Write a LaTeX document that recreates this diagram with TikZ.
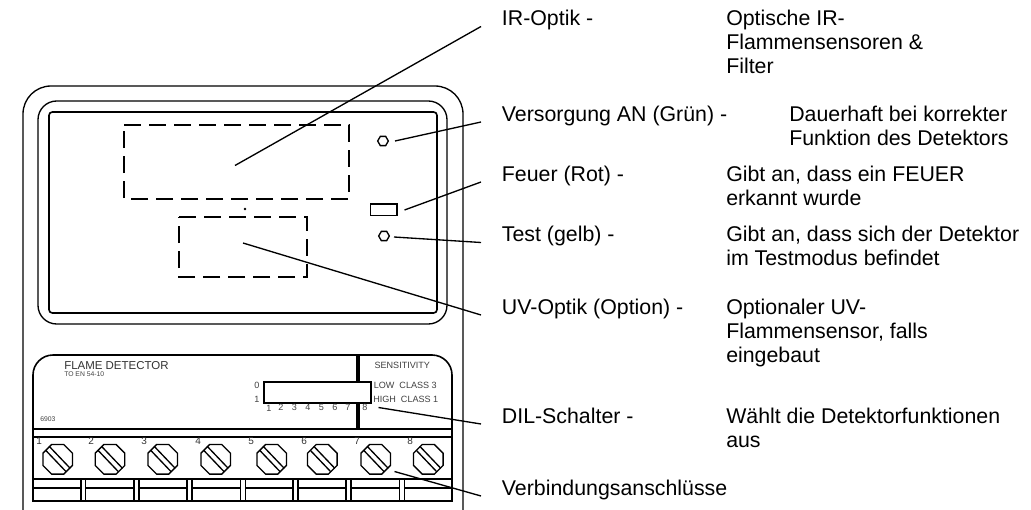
\documentclass[tikz,border=0pt]{standalone}
\usepackage{fontspec}
\setmainfont{Liberation Sans}
\usetikzlibrary{positioning,shapes.geometric}
\tikzset{
  leader/.style={line width=1pt},
  frame/.style={line width=1pt},
  hidden/.style={line width=1pt,dash pattern=on 13pt off 5.75pt},
  lamp/.style={draw,line width=1pt,regular polygon,regular polygon sides=6,inner sep=0pt,minimum size=8pt},
  term/.style={font=\fontsize{16}{18}\selectfont,anchor=west,inner xsep=15.5pt,inner ysep=0pt,text height=10pt,text depth=11pt},
  info/.style={font=\fontsize{16}{18}\selectfont,anchor=north west,align=left,inner sep=0pt},
  tiny/.style={font=\fontsize{5.1}{6}\selectfont,text=black!75,inner sep=0pt,anchor=base west},
  small/.style={font=\fontsize{6.8}{8}\selectfont,text=black!75,inner sep=0pt,anchor=base west},
  num/.style={font=\fontsize{7.5}{8}\selectfont,text=black!80,inner sep=0pt,anchor=base west},
  screw/.pic={
    \draw[line width=1pt] (22.5:16) -- (67.5:16) -- (112.5:16) -- (157.5:16) -- (202.5:16) -- (247.5:16) -- (292.5:16) -- (337.5:16) -- cycle;
    \draw[line width=1pt] (-12,-9) -- (8.5,12.5) (-8.5,-13) -- (12.5,9);
  }
}
\begin{document}
\begin{tikzpicture}[x=0.75pt,y=-0.75pt]
\useasboundingbox (0,0) rectangle (1031,510);
% housing
\draw[frame] (23,510) -- (23,114) arc[start angle=180,end angle=90,x radius=28,y radius=-28] -- (435,86) arc[start angle=90,end angle=0,x radius=28,y radius=-28] -- (463,510);
\draw[frame,rounded corners=14] (38,101) rectangle (447,324);
\draw[frame,line width=1.2pt,rounded corners=2.5] (49,112) rectangle (437,313);
\draw[hidden] (124,125) -- (349,125) -- (349,199) -- (124,199) -- cycle;
\draw[hidden] (179,217) -- (307,217) -- (307,277) -- (179,277) -- cycle;
\fill (245,209) circle (1.3);
\node[lamp] (greenlamp) at (383,141) {};
\node[draw,line width=1pt,minimum width=20pt,minimum height=8.5pt,inner sep=0pt] (redlamp) at (383.5,209.5) {};
\node[lamp] (testlamp) at (384,236) {};
% lower plate
\draw[line width=1.2pt] (33,501) -- (33,375) arc[start angle=180,end angle=90,x radius=20,y radius=-20] -- (432,355) arc[start angle=90,end angle=0,x radius=20,y radius=-20] -- (452,501) -- cycle;
\draw[line width=1.4pt] (33,429) -- (452,429);
\draw[line width=0.8pt] (33,437) -- (452,437);
\draw[line width=3pt] (357.5,355) -- (357.5,429);
\node[draw,fill=white,line width=1.2pt,minimum width=80pt,minimum height=15.5pt,inner sep=0pt] (dil) at (317.5,392.5) {};
\node[font=\fontsize{8.6}{10}\selectfont,text=black!80,inner sep=0pt,anchor=base west] (flame) at (64,369) {FLAME DETECTOR};
\node[tiny] (norm) at (64,376) {TO EN 54-10};
\node[tiny] (batch) at (40,421.7) {6903};
\node[small] (sens) at (374.3,368) {SENSITIVITY};
\node[small] (low) at (373.5,388.7) {LOW\ \ CLASS 3};
\node[small] (high) at (373,402.7) {HIGH\ \ CLASS 1};
\node[small] (off) at (254,388.7) {0};
\node[small] (on) at (254,402.7) {1};
\node[small] (sw1) at (266,411) {1};
\node[small] (sw2) at (278,410) {2};
\node[small] (sw3) at (291.5,410) {3};
\node[small] (sw4) at (305,410) {4};
\node[small] (sw5) at (318.5,410) {5};
\node[small] (sw6) at (332,410) {6};
\node[small] (sw7) at (345,410) {7};
\node[small] (sw8) at (362,410) {8};
% terminals
\node[num] (t1) at (36,444.5) {1};
\node[num] (t2) at (88,444.5) {2};
\node[num] (t3) at (141,444.5) {3};
\node[num] (t4) at (195,444.5) {4};
\node[num] (t5) at (248,444.5) {5};
\node[num] (t6) at (301,444.5) {6};
\node[num] (t7) at (354,444.5) {7};
\node[num] (t8) at (407,444.5) {8};
\pic at (57.7,459.3) {screw};
\pic at (110,459.3) {screw};
\pic at (162.7,459.3) {screw};
\pic at (215.7,459.3) {screw};
\pic at (271.7,459.3) {screw};
\pic at (322.3,459.3) {screw};
\pic at (375.7,459.3) {screw};
\pic at (428.3,459.3) {screw};
\draw[frame] (33,479) -- (452,479);
\draw[frame] (33,488) -- (452,488);
\draw[frame,fill=white] (81,479) rectangle (85.5,501);
\draw[frame,fill=white] (134,479) rectangle (139,501);
\draw[frame,fill=white] (187,479) rectangle (192,501);
\draw[frame,fill=white] (240.5,479) rectangle (245.5,501);
\draw[frame,fill=white] (293,479) rectangle (298,501);
\draw[frame,fill=white] (346,479) rectangle (351,501);
\draw[frame,fill=white] (399.5,479) rectangle (404.5,501);
% labels
\node[term] (iroptik) at (481,26.5) {IR-Optik -};
\node[term] (supply) at (481,122) {Versorgung AN (Grün) -};
\node[term] (fire) at (481,182) {Feuer (Rot) -};
\node[term] (test) at (481,242.5) {Test (gelb) -};
\node[term] (uvoptik) at (481,315) {UV-Optik (Option) -};
\node[term] (dilsw) at (481,424) {DIL-Schalter -};
\node[term] (conn) at (481,496) {Verbindungsanschlüsse};
\node[info] (iroptiktxt) at (726,9.6) {Optische IR-\\Flammensensoren \&\\Filter};
\node[info] (supplytxt) at (789,105.4) {Dauerhaft bei korrekter\\Funktion des Detektors};
\node[info] (firetxt) at (726,165.4) {Gibt an, dass ein FEUER\\erkannt wurde};
\node[info] (testtxt) at (726,226) {Gibt an, dass sich der Detektor\\im Testmodus befindet};
\node[info] (uvoptiktxt) at (726,298.6) {Optionaler UV-\\Flammensensor, falls\\eingebaut};
\node[info] (dilswtxt) at (726,407.7) {Wählt die Detektorfunktionen\\aus};
% leaders
\coordinate (irend) at (235,165.5);
\coordinate (greenend) at (395,141);
\coordinate (redend) at (404.5,210);
\coordinate (testend) at (394,237);
\coordinate (uvend) at (243,243);
\coordinate (dilend) at (378.5,407.5);
\coordinate (connend) at (394.5,471.5);
\draw[leader] (irend) -- (iroptik.west);
\draw[leader] (greenend) -- (supply.west);
\draw[leader] (redend) -- (fire.west);
\draw[leader] (testend) -- (test.west);
\draw[leader] (uvend) -- (uvoptik.west);
\draw[leader] (dilend) -- (dilsw.west);
\draw[leader] (connend) -- (conn.west);
\end{tikzpicture}
\end{document}
